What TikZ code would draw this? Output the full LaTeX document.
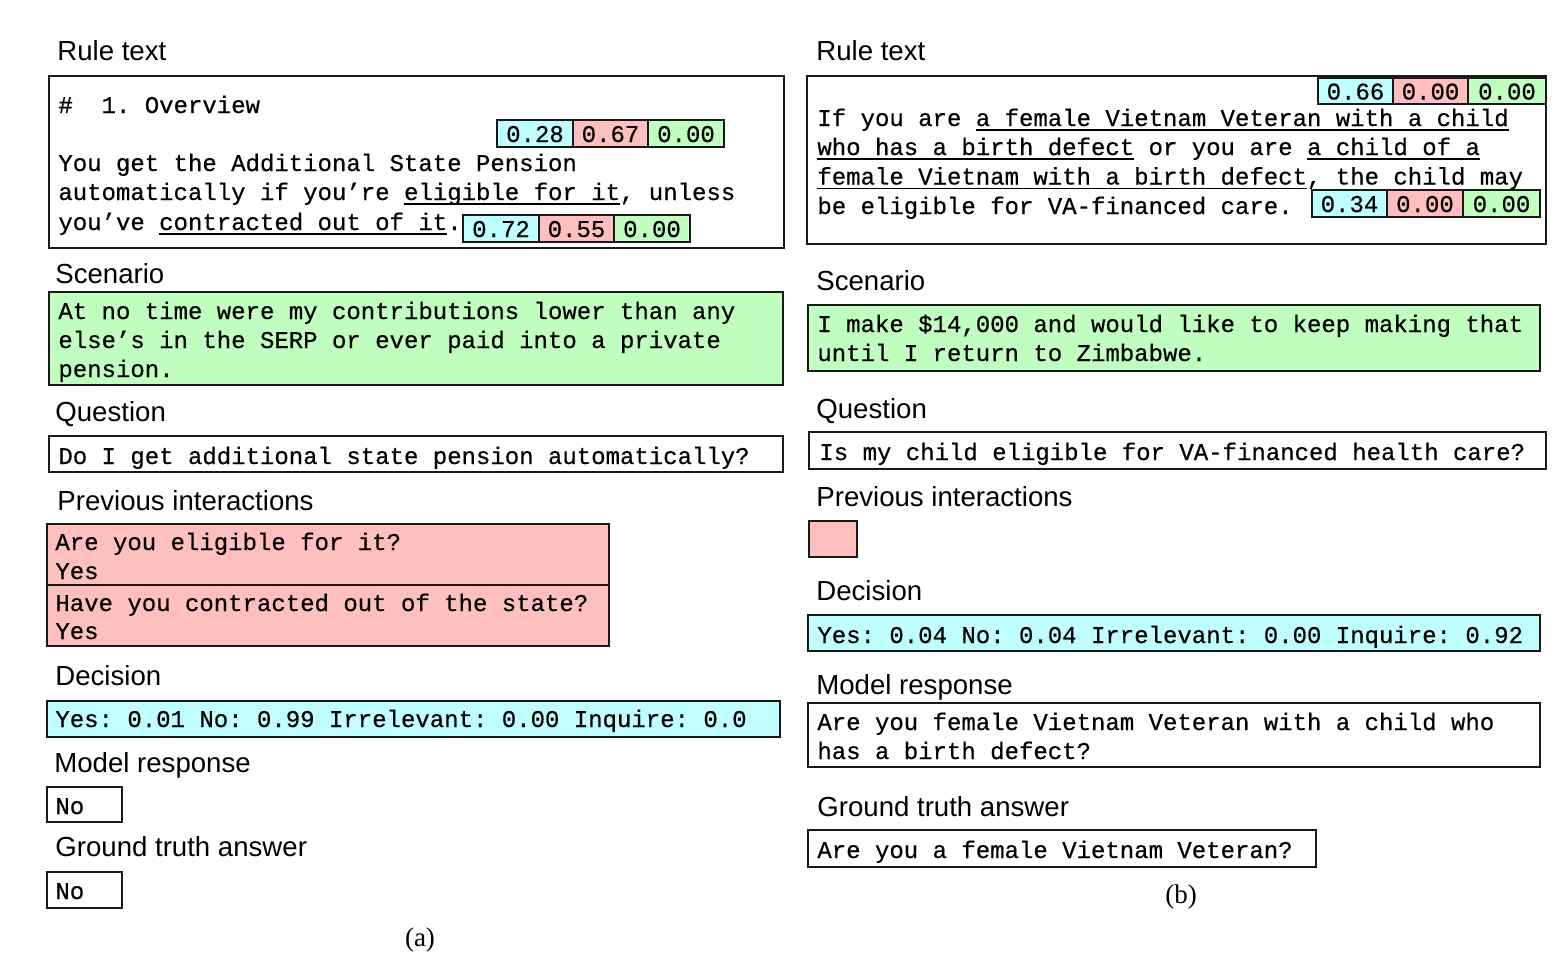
\documentclass[tikz,border=0pt]{standalone}
\usepackage{fontspec}
\setmainfont{Liberation Sans}
\newfontfamily\monof[FakeBold=0.5]{Liberation Mono}
\newfontfamily\capf{Liberation Serif}
\definecolor{cyanF}{RGB}{192,255,255}
\definecolor{redF}{RGB}{255,191,191}
\definecolor{greenF}{RGB}{192,255,192}
\definecolor{edge}{RGB}{25,25,25}
\newcommand\ulin[1]{\setbox0=\hbox{#1}\rlap{\rule[-2.4pt]{\wd0}{0.7pt}}\box0{}}
\newcommand\bx[6]{\node[#6, minimum width={(#4-#2)*0.5pt}, minimum height={(#5-#3)*0.5pt}] (#1) at ({(#2+#4)/2},{(#3+#5)/2}) {};}
\begin{document}
\begin{tikzpicture}[x=0.5pt,y=-0.5pt,
  lbl/.style={anchor=base west,inner sep=0pt,font=\fontsize{13.8}{16}\selectfont},
  mono/.style={anchor=base west,inner sep=0pt,font=\monof\fontsize{12}{14}\selectfont\frenchspacing},
  captxt/.style={anchor=base,inner sep=0pt,font=\capf\fontsize{13.5}{16}\selectfont},
  frame/.style={draw=edge,line width=0.75pt,inner sep=0pt,outer sep=0pt,rectangle},
  wbox/.style={frame,fill=white},
  cbox/.style={frame,fill=cyanF},
  rbox/.style={frame,fill=redF},
  gbox/.style={frame,fill=greenF},
  sc/.style={inner sep=0pt,font=\monof\fontsize{12}{14}\selectfont}]
\useasboundingbox (0,0) rectangle (1564,959);
% ================= (a) =================
\node[lbl] (La1) at (57,60) {Rule text};
\bx{Ra}{49}{76}{784}{248}{wbox}
\node[mono] (ra1) at (58,113) {\#\ \ 1. Overview};
\node[mono] (ra2) at (58,171) {You get the Additional State Pension};
\node[mono] (ra3) at (58,200) {automatically if you’re \ulin{eligible for it}, unless};
\node[mono] (ra4) at (58,230) {you’ve \ulin{contracted out of it}.};
\bx{sa1}{497}{120}{573}{147}{cbox}
\bx{sa2}{573}{120}{648}{147}{rbox}
\bx{sa3}{648}{120}{724}{147}{gbox}
\node[sc] at ([yshift=-0.3pt]sa1.center) {0.28};
\node[sc] at ([yshift=-0.3pt]sa2.center) {0.67};
\node[sc] at ([yshift=-0.3pt]sa3.center) {0.00};
\bx{sb1}{463}{215}{539}{242}{cbox}
\bx{sb2}{539}{215}{614}{242}{rbox}
\bx{sb3}{614}{215}{690}{242}{gbox}
\node[sc] at ([yshift=-0.3pt]sb1.center) {0.72};
\node[sc] at ([yshift=-0.3pt]sb2.center) {0.55};
\node[sc] at ([yshift=-0.3pt]sb3.center) {0.00};

\node[lbl] (La2) at (55,283) {Scenario};
\bx{Sa}{49}{292}{783}{385}{gbox}
\node[mono] (sca1) at (58,319) {At no time were my contributions lower than any};
\node[mono] (sca2) at (58,348) {else’s in the SERP or ever paid into a private};
\node[mono] (sca3) at (58,377) {pension.};

\node[lbl] (La3) at (55,421) {Question};
\bx{Qa}{49}{436}{783}{472}{wbox}
\node[mono] (qa1) at (58,464) {Do I get additional state pension automatically?};

\node[lbl] (La4) at (57,510) {Previous interactions};
\bx{Pa1}{47}{524}{609}{585}{rbox}
\bx{Pa2}{47}{585}{609}{646}{rbox}
\node[mono] (pa1) at (55,550) {Are you eligible for it?};
\node[mono] (pa2) at (55,579) {Yes};
\node[mono] (pa3) at (55,611) {Have you contracted out of the state?};
\node[mono] (pa4) at (55,639) {Yes};

\node[lbl] (La5) at (55,685) {Decision};
\bx{Da}{47}{701}{780}{737}{cbox}
\node[mono] (da1) at (55,727) {Yes: 0.01 No: 0.99 Irrelevant: 0.00 Inquire: 0.0};

\node[lbl] (La6) at (54,772) {Model response};
\bx{Ma}{47}{787}{122}{822}{wbox}
\node[mono] (ma1) at (55,814) {No};

\node[lbl] (La7) at (55,856) {Ground truth answer};
\bx{Ga}{47}{872}{122}{908}{wbox}
\node[mono] (ga1) at (55,899) {No};

\node[captxt] (capa) at (420,946) {(a)};

% ================= (b) =================
\node[lbl] (Lb1) at (816,60) {Rule text};
\bx{Rb}{807}{76}{1546}{244}{wbox}
\bx{tb1}{1318}{78}{1393}{104}{cbox}
\bx{tb2}{1393}{78}{1468}{104}{rbox}
\bx{tb3}{1468}{78}{1546}{104}{gbox}
\node[sc] at ([yshift=-0.3pt]tb1.center) {0.66};
\node[sc] at ([yshift=-0.3pt]tb2.center) {0.00};
\node[sc] at ([yshift=-0.3pt]tb3.center) {0.00};
\node[mono] (rb1) at (817,126) {If you are \ulin{a female Vietnam Veteran with a child}};
\node[mono] (rb2) at (817,155) {\ulin{who has a birth defect} or you are \ulin{a child of a}};
\node[mono] (rb3) at (817,184.5) {\ulin{female Vietnam with a birth defect}, the child may};
\node[mono] (rb4) at (817,214) {be eligible for VA-financed care.};
\bx{ub1}{1312}{190}{1387}{217}{cbox}
\bx{ub2}{1387}{190}{1463}{217}{rbox}
\bx{ub3}{1463}{190}{1540}{217}{gbox}
\node[sc] at ([yshift=-0.3pt]ub1.center) {0.34};
\node[sc] at ([yshift=-0.3pt]ub2.center) {0.00};
\node[sc] at ([yshift=-0.3pt]ub3.center) {0.00};

\node[lbl] (Lb2) at (816,290) {Scenario};
\bx{Sb}{808}{305}{1540}{371}{gbox}
\node[mono] (scb1) at (817,332) {I make \$14,000 and would like to keep making that};
\node[mono] (scb2) at (817,361) {until I return to Zimbabwe.};

\node[lbl] (Lb3) at (816,418) {Question};
\bx{Qb}{809}{432}{1546}{469}{wbox}
\node[mono] (qb1) at (819,460) {Is my child eligible for VA-financed health care?};

\node[lbl] (Lb4) at (816,506) {Previous interactions};
\bx{Pb}{809}{521}{857}{557}{rbox}

\node[lbl] (Lb5) at (816,600) {Decision};
\bx{Db}{808}{615}{1540}{651}{cbox}
\node[mono] (db1) at (817,643) {Yes: 0.04 No: 0.04 Irrelevant: 0.00 Inquire: 0.92};

\node[lbl] (Lb6) at (816,694) {Model response};
\bx{Mb}{808}{703}{1540}{767}{wbox}
\node[mono] (mb1) at (817,730) {Are you female Vietnam Veteran with a child who};
\node[mono] (mb2) at (817,759) {has a birth defect?};

\node[lbl] (Lb7) at (817,816) {Ground truth answer};
\bx{Gb}{808}{830}{1316}{867}{wbox}
\node[mono] (gb1) at (817,858) {Are you a female Vietnam Veteran?};

\node[captxt] (capb) at (1181,903) {(b)};
\end{tikzpicture}
\end{document}
